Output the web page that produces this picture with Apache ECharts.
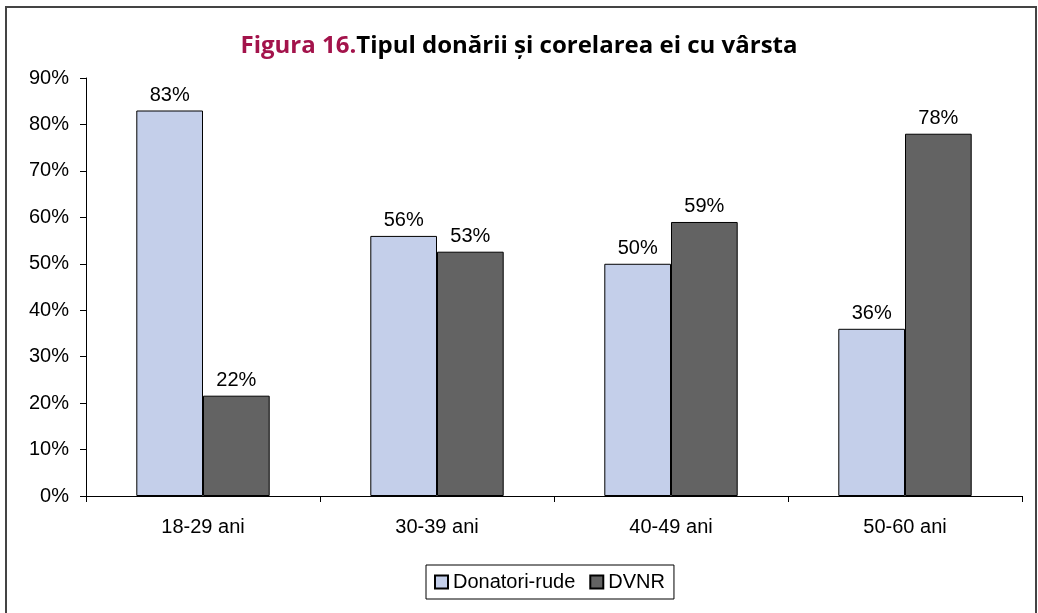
<!DOCTYPE html>
<html><head><meta charset="utf-8">
<script src="https://cdn.jsdelivr.net/npm/echarts@6/dist/echarts.min.js"></script>
<style>html,body{margin:0;padding:0;background:#fff}#c{width:1038px;height:613px}</style>
</head><body><div id="c"></div>
<script>
var categories = ['18-29 ani', '30-39 ani', '40-49 ani', '50-60 ani'];
var donatoriRude = [83, 56, 50, 36];
var dvnr = [21.6, 52.6, 59, 78];
var yTicks = [0, 10, 20, 30, 40, 50, 60, 70, 80, 90];

var chart = echarts.init(document.getElementById('c'));
var font = 'Liberation Sans, Arial, sans-serif';
var lbl = {show: true, position: 'top', color: '#000', fontFamily: font, fontSize: 20, distance: 5,
  formatter: function(p){ return Math.round(p.value) + '%'; }};
chart.setOption({
  animation: false,
  title: {
    text: '{a|Figura 16.}{b|Tipul donării și corelarea ei cu vârsta}',
    left: 'center', top: 29,
    textStyle: {rich: {
      a: {color: '#a3134b', fontSize: 24, fontWeight: 'bold', fontFamily: 'Open Sans, Lato, sans-serif'},
      b: {color: '#000', fontSize: 24, fontWeight: 'bold', fontFamily: 'Open Sans, Lato, sans-serif'}
    }}
  },
  graphic: [{type: 'rect', shape: {x: 6, y: 7, width: 1030, height: 620},
    style: {fill: 'none', stroke: '#444', lineWidth: 2}, silent: true}],
  legend: {
    bottom: 14, left: 426, itemWidth: 13, itemHeight: 13, itemGap: 14,
    borderColor: '#000', borderWidth: 1, padding: [7, 9, 7, 8],
    textStyle: {fontFamily: font, fontSize: 20, color: '#000'},
    data: [{name: 'Donatori-rude', icon: 'rect'}, {name: 'DVNR', icon: 'rect'}]
  },
  grid: {left: 86, right: 16, top: 78, bottom: 117},
  xAxis: {
    type: 'category', data: categories,
    axisLine: {lineStyle: {color: '#000'}},
    axisTick: {show: true, length: 6, lineStyle: {color: '#000'}},
    axisLabel: {color: '#000', fontFamily: font, fontSize: 20, margin: 21}
  },
  yAxis: {
    type: 'value', min: 0, max: 90, interval: 10,
    axisLine: {show: true, lineStyle: {color: '#000'}},
    axisTick: {show: true, length: 6, lineStyle: {color: '#000'}},
    splitLine: {show: false},
    axisLabel: {color: '#000', fontFamily: font, fontSize: 20, margin: 17,
      formatter: function(v){ return yTicks.indexOf(v) >= 0 ? v + '%' : ''; }}
  },
  series: [
    {name: 'Donatori-rude', type: 'bar', data: donatoriRude, barGap: '0%', barCategoryGap: '43%',
      itemStyle: {color: '#c4cfea', borderColor: '#000', borderWidth: 1}, label: lbl},
    {name: 'DVNR', type: 'bar', data: dvnr,
      itemStyle: {color: '#636363', borderColor: '#000', borderWidth: 1}, label: lbl}
  ]
});
</script></body></html>
